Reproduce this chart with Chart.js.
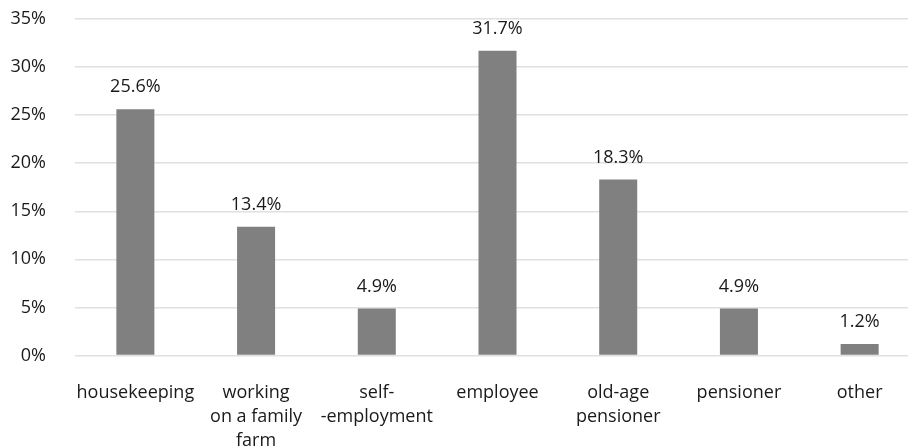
<!DOCTYPE html>
<html>
<head>
<meta charset="utf-8">
<script src="https://cdn.jsdelivr.net/npm/chart.js@4.4.0/dist/chart.umd.min.js"></script>
<style>
html,body{margin:0;padding:0;overflow:hidden;background:#fff;width:908px;height:447px;}
#wrap{position:absolute;left:0;top:0;width:920px;height:447px;}
</style>
</head>
<body>
<div id="wrap"><canvas id="c"></canvas></div>
<script>
const categories = [
  "housekeeping",
  ["working", "on a family", "farm"],
  ["self-", "-employment"],
  "employee",
  ["old-age", "pensioner"],
  "pensioner",
  "other"
];
const values = [25.6, 13.4, 4.9, 31.7, 18.3, 4.9, 1.2];
const yMax = 35;
const yStep = 5;

const FONT = "'Open Sans', 'Noto Sans', sans-serif";

const labelPlugin = {
  id: 'barLabels',
  afterDatasetsDraw(chart) {
    const ctx = chart.ctx;
    const meta = chart.getDatasetMeta(0);
    ctx.save();
    ctx.font = "18px " + FONT;
    ctx.fillStyle = "#1a1a1a";
    ctx.textAlign = "center";
    ctx.textBaseline = "middle";
    meta.data.forEach((bar, i) => {
      ctx.fillText(values[i].toFixed(1) + "%", bar.x, bar.y - 22);
    });
    ctx.restore();
  }
};

new Chart(document.getElementById('c'), {
  type: 'bar',
  data: {
    labels: categories,
    datasets: [{
      data: values,
      backgroundColor: '#808080',
      borderWidth: 0,
      barPercentage: 0.315,
      categoryPercentage: 1
    }]
  },
  options: {
    responsive: true,
    maintainAspectRatio: false,
    animation: false,
    layout: { padding: { top: 19, right: 0, left: 0, bottom: 0 } },
    plugins: { legend: { display: false }, tooltip: { enabled: false } },
    scales: {
      x: {
        grid: { display: false, drawTicks: false },
        border: { display: false },
        ticks: {
          font: { family: FONT, size: 18, lineHeight: 1.333 },
          color: '#1a1a1a',
          padding: 25.5,
          maxRotation: 0,
          autoSkip: false
        },
        afterFit(s) { s.height = 91.5; s.paddingLeft = 0; s.paddingRight = 0; }
      },
      y: {
        min: 0,
        max: yMax,
        grid: { color: '#e0e0e0', lineWidth: 1.5, drawTicks: false },
        border: { display: false },
        ticks: {
          stepSize: yStep,
          font: { family: FONT, size: 18 },
          color: '#1a1a1a',
          padding: 29,
          callback: v => v + '%'
        },
        afterFit(s) { s.width = 75; s.paddingTop = 0; s.paddingBottom = 0; }
      }
    }
  },
  plugins: [labelPlugin]
});
</script>
</body>
</html>
